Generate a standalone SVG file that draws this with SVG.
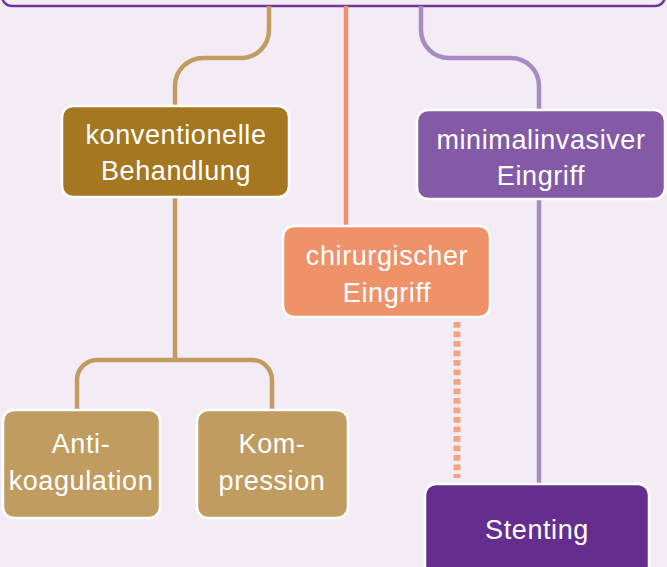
<svg xmlns="http://www.w3.org/2000/svg" width="667" height="567" viewBox="0 0 667 567">
<style>
.bg{fill:#f4ecf5}
.node{stroke:#ffffff;stroke-width:2.5}
.t{font-family:"Liberation Sans",Arial,sans-serif;font-size:27px;letter-spacing:0.6px;fill:#ffffff;text-anchor:middle}
.c{fill:none;stroke-width:4.5}
</style>
<rect class="bg" x="0" y="0" width="667" height="567"/>
<g id="root">
<rect x="2" y="-60" width="663" height="66" rx="10" fill="#f4ecf5" stroke="#6e359a" stroke-width="2.5"/>
</g>
<g id="connectors">
<path class="c" stroke="#c19c60" d="M269,6 V30 A28,28 0 0 1 241,58 H203 A28,28 0 0 0 175,86 V107"/>
<path class="c" stroke="#c19c60" d="M175,197 V360"/>
<path class="c" stroke="#c19c60" d="M77,410 V380 A20,20 0 0 1 97,360 H252 A20,20 0 0 1 272,380 V410"/>
<path class="c" stroke="#ef926a" d="M346,6 V226"/>
<path fill="none" stroke="#f2a47f" stroke-width="7" stroke-dasharray="5.7 3.8" d="M457,322 V478"/>
<path class="c" stroke="#a88bc3" d="M421,6 V30 A28,28 0 0 0 449,58 H511 A28,28 0 0 1 539,86 V110"/>
<path class="c" stroke="#a88bc3" d="M539,199 V484"/>
</g>
<g id="konventionelle">
<rect class="node" x="62" y="106" width="227" height="91" rx="11" fill="#a57721"/>
<text class="t" x="176" y="144">konventionelle</text>
<text class="t" x="176" y="180">Behandlung</text>
</g>
<g id="chirurgischer">
<rect class="node" x="283" y="226" width="207" height="91" rx="11" fill="#ef926a"/>
<text class="t" x="387" y="265">chirurgischer</text>
<text class="t" x="387" y="302">Eingriff</text>
</g>
<g id="minimalinvasiver">
<rect class="node" x="417" y="110" width="248" height="89" rx="11" fill="#845aa6"/>
<text class="t" x="541" y="149">minimalinvasiver</text>
<text class="t" x="541" y="185">Eingriff</text>
</g>
<g id="antikoagulation">
<rect class="node" x="3" y="410" width="157" height="108" rx="11" fill="#c19c60"/>
<text class="t" x="81" y="453">Anti-</text>
<text class="t" x="81" y="490">koagulation</text>
</g>
<g id="kompression">
<rect class="node" x="197" y="410" width="151" height="108" rx="11" fill="#c19c60"/>
<text class="t" x="272" y="453">Kom-</text>
<text class="t" x="272" y="490">pression</text>
</g>
<g id="stenting">
<rect class="node" x="425" y="484" width="224" height="100" rx="11" fill="#642d8e"/>
<text class="t" x="537" y="539">Stenting</text>
</g>
</svg>
